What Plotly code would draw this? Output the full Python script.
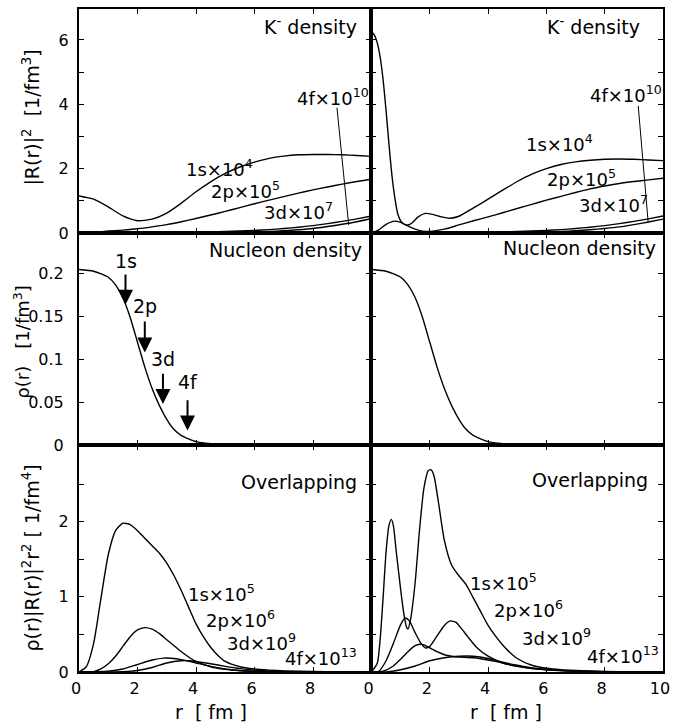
import plotly.graph_objects as go
from plotly.subplots import make_subplots

# ---------------- data ----------------
# Top row: K- density |R(r)|^2 (scaled)
r_top = [0, 0.5, 1, 1.5, 2, 2.5, 3, 3.5, 4, 4.5, 5, 5.5, 6, 6.5, 7, 7.5, 8, 8.5, 9, 9.5, 10]
kL_1s = [1.15, 1.05, 0.81, 0.53, 0.38, 0.43, 0.62, 0.93, 1.28, 1.59, 1.85, 2.05, 2.20, 2.32, 2.39, 2.43, 2.44, 2.44, 2.43, 2.41, 2.38]
kL_2p = [0, 0.02, 0.06, 0.09, 0.13, 0.19, 0.26, 0.35, 0.45, 0.56, 0.67, 0.79, 0.91, 1.02, 1.13, 1.24, 1.34, 1.43, 1.52, 1.60, 1.67]
kL_3d = [0, 0, 0, 0.002, 0.004, 0.007, 0.011, 0.017, 0.025, 0.034, 0.046, 0.06, 0.08, 0.105, 0.14, 0.18, 0.23, 0.29, 0.36, 0.44, 0.53]
kL_4f = [0, 0, 0, 0, 0, 0.001, 0.002, 0.004, 0.006, 0.009, 0.013, 0.02, 0.03, 0.046, 0.07, 0.1, 0.14, 0.2, 0.27, 0.35, 0.45]

r_kR_1s = [0, 0.1, 0.2, 0.3, 0.4, 0.5, 0.6, 0.7, 0.8, 0.9, 1.0, 1.1, 1.25, 1.4, 1.6, 1.85, 2.1, 2.4, 2.7, 3.0, 3.5, 4.0, 4.5, 5.0, 5.5, 6.0, 6.5, 7.0, 7.5, 8.0, 8.5, 9.0, 9.5, 10]
kR_1s = [6.25, 6.15, 5.9, 5.45, 4.75, 3.8, 2.75, 1.8, 1.1, 0.6, 0.38, 0.28, 0.25, 0.32, 0.5, 0.61, 0.58, 0.5, 0.46, 0.52, 0.78, 1.05, 1.33, 1.6, 1.83, 2.0, 2.13, 2.21, 2.26, 2.29, 2.30, 2.29, 2.27, 2.25]
r_kR_2p = [0, 0.25, 0.5, 0.8, 1.0, 1.25, 1.5, 1.75, 2.0, 2.5, 3.0, 3.5, 4.0, 4.5, 5.0, 5.5, 6.0, 6.5, 7.0, 7.5, 8.0, 8.5, 9.0, 9.5, 10]
kR_2p = [0, 0.1, 0.27, 0.37, 0.33, 0.22, 0.12, 0.06, 0.05, 0.12, 0.25, 0.38, 0.5, 0.63, 0.76, 0.89, 1.02, 1.14, 1.26, 1.37, 1.46, 1.54, 1.6, 1.65, 1.7]
kR_3d = [0, 0, 0, 0.002, 0.004, 0.007, 0.011, 0.017, 0.024, 0.033, 0.045, 0.06, 0.08, 0.105, 0.14, 0.18, 0.23, 0.29, 0.36, 0.44, 0.53]
kR_4f = [0, 0, 0, 0, 0, 0.001, 0.002, 0.004, 0.006, 0.009, 0.013, 0.02, 0.03, 0.045, 0.068, 0.1, 0.14, 0.19, 0.26, 0.34, 0.43]

# Middle row: nucleon density rho(r) [1/fm^3]
r_rho = [0, 0.5, 1.0, 1.25, 1.5, 1.75, 2.0, 2.25, 2.5, 2.75, 3.0, 3.25, 3.5, 4.0, 4.5, 5.0, 6.0, 8.0, 10.0]
rho = [0.205, 0.203, 0.196, 0.187, 0.172, 0.149, 0.120, 0.091, 0.066, 0.046, 0.030, 0.018, 0.011, 0.004, 0.0015, 0.0005, 0, 0, 0]

# Arrow markers on the nucleon density (left panel)
arrow_lbl = ["1s", "2p", "3d", "4f"]
arrow_r = [1.59, 2.25, 2.87, 3.71]
arrow_tip = [0.164, 0.108, 0.048, 0.017]
arrow_tail = [0.201, 0.146, 0.085, 0.054]
arrow_txt_y = [0.215, 0.162, 0.101, 0.074]

# Bottom row: overlapping rho(r)|R(r)|^2 r^2 (scaled)
r_oL_1s = [0, 0.25, 0.5, 0.75, 1.0, 1.25, 1.5, 1.75, 2.0, 2.25, 2.5, 2.75, 3.0, 3.25, 3.5, 3.75, 4.0, 4.25, 4.5, 4.75, 5.0, 5.5, 6.0, 6.5, 7.0, 8.0, 9.0, 10.0]
oL_1s = [0, 0.07, 0.38, 0.98, 1.56, 1.88, 1.98, 1.96, 1.88, 1.78, 1.68, 1.58, 1.45, 1.28, 1.08, 0.86, 0.64, 0.47, 0.33, 0.22, 0.14, 0.07, 0.04, 0.025, 0.015, 0.006, 0.002, 0]
r_oL_2p = [0, 0.5, 0.75, 1.0, 1.25, 1.5, 1.75, 2.0, 2.25, 2.5, 2.75, 3.0, 3.25, 3.5, 3.75, 4.0, 4.5, 5.0, 5.5, 6.0, 7.0, 8.0, 10.0]
oL_2p = [0, 0.005, 0.04, 0.11, 0.21, 0.34, 0.47, 0.56, 0.59, 0.57, 0.51, 0.43, 0.35, 0.27, 0.2, 0.14, 0.07, 0.035, 0.017, 0.008, 0.002, 0, 0]
r_oL_3d = [0, 1.0, 1.5, 2.0, 2.5, 2.9, 3.25, 3.5, 4.0, 4.5, 5.0, 5.5, 6.0, 7.0, 8.0, 10.0]
oL_3d = [0, 0.01, 0.04, 0.1, 0.16, 0.185, 0.18, 0.165, 0.12, 0.075, 0.04, 0.02, 0.01, 0.003, 0, 0]
r_oL_4f = [0, 1.5, 2.0, 2.5, 3.0, 3.5, 3.75, 4.0, 4.5, 5.0, 5.5, 6.0, 7.0, 8.0, 10.0]
oL_4f = [0, 0.005, 0.02, 0.06, 0.12, 0.15, 0.15, 0.14, 0.11, 0.075, 0.045, 0.025, 0.008, 0.002, 0]

r_oR_1s = [0, 0.2, 0.3, 0.4, 0.5, 0.6, 0.68, 0.75, 0.85, 1.0, 1.1, 1.2, 1.25, 1.35, 1.5, 1.65, 1.8, 1.95, 2.05, 2.15, 2.3, 2.5, 2.75, 3.0, 3.25, 3.5, 3.75, 4.0, 4.25, 4.5, 4.75, 5.0, 5.5, 6.0, 6.5, 7.0, 8.0, 9.0, 10.0]
oR_1s = [0, 0.12, 0.45, 1.0, 1.6, 1.95, 2.03, 1.95, 1.6, 1.1, 0.8, 0.6, 0.57, 0.72, 1.2, 1.9, 2.45, 2.68, 2.69, 2.6, 2.25, 1.75, 1.42, 1.28, 1.16, 0.98, 0.8, 0.62, 0.48, 0.36, 0.26, 0.18, 0.09, 0.05, 0.03, 0.02, 0.008, 0.003, 0]
r_oR_2p = [0, 0.25, 0.5, 0.75, 1.0, 1.15, 1.3, 1.5, 1.7, 1.85, 2.0, 2.25, 2.5, 2.7, 2.9, 3.1, 3.3, 3.6, 4.0, 4.5, 5.0, 5.5, 6.0, 7.0, 8.0, 9.0, 10.0]
oR_2p = [0, 0.01, 0.15, 0.38, 0.63, 0.72, 0.68, 0.52, 0.38, 0.32, 0.34, 0.48, 0.62, 0.68, 0.66, 0.57, 0.47, 0.33, 0.21, 0.12, 0.075, 0.045, 0.03, 0.012, 0.005, 0.002, 0]
r_oR_3d = [0, 0.4, 0.75, 1.0, 1.25, 1.5, 1.65, 1.8, 2.0, 2.25, 2.5, 2.75, 3.0, 3.5, 4.0, 4.5, 5.0, 5.5, 6.0, 7.0, 8.0, 10.0]
oR_3d = [0, 0.01, 0.08, 0.17, 0.27, 0.35, 0.37, 0.36, 0.32, 0.27, 0.23, 0.21, 0.2, 0.19, 0.16, 0.12, 0.08, 0.05, 0.03, 0.01, 0.004, 0]
r_oR_4f = [0, 0.5, 1.0, 1.5, 2.0, 2.5, 3.0, 3.5, 4.0, 4.5, 5.0, 5.5, 6.0, 7.0, 8.0, 10.0]
oR_4f = [0, 0.0, 0.03, 0.08, 0.15, 0.19, 0.21, 0.21, 0.18, 0.13, 0.09, 0.055, 0.035, 0.012, 0.004, 0]

# curve labels: (text, r, value)
lbl_top_L = [("1s×10<sup>4</sup>", 4.8, 2.02), ("2p×10<sup>5</sup>", 5.69, 1.34),
             ("3d×10<sup>7</sup>", 7.52, 0.68), ("4f×10<sup>10</sup>", 8.7, 4.23)]
lbl_top_R = [("1s×10<sup>4</sup>", 6.46, 2.79), ("2p×10<sup>5</sup>", 7.2, 1.71),
             ("3d×10<sup>7</sup>", 8.3, 0.9), ("4f×10<sup>10</sup>", 8.73, 4.32)]
lbl_bot_L = [("1s×10<sup>5</sup>", 4.88, 1.05), ("2p×10<sup>6</sup>", 5.52, 0.70),
             ("3d×10<sup>9</sup>", 6.25, 0.40), ("4f×10<sup>13</sup>", 8.28, 0.20)]
lbl_bot_R = [("1s×10<sup>5</sup>", 4.52, 1.20), ("2p×10<sup>6</sup>", 5.39, 0.84),
             ("3d×10<sup>9</sup>", 6.36, 0.47), ("4f×10<sup>13</sup>", 8.63, 0.22)]
# 4f pointer lines in the top panels: (r0, v0, r1, v1)
ptr_L = (8.82, 3.89, 9.22, 0.25)
ptr_R = (9.15, 3.95, 9.49, 0.35)

# ---------------- figure ----------------
FONT = "DejaVu Sans"
W, H = 677, 724
PL, PR, PT, PB = 79, 670, 9, 672   # plot area in page pixels
ML, MT = PL, PT
MR = W - PR
MB = H - PB
PW, PH = PR - PL, PB - PT

def px(xp):
    return (xp - PL) / PW

def py(yp):
    return (PB - yp) / PH

fig = make_subplots(rows=3, cols=2, horizontal_spacing=0, vertical_spacing=0)

line = dict(color="black", width=1.4, shape="spline", smoothing=0.6)

def add(r, v, row, col):
    fig.add_trace(go.Scatter(x=r, y=v, mode="lines", line=line, showlegend=False,
                             hoverinfo="skip"), row=row, col=col)

for v in (kL_1s, kL_2p, kL_3d, kL_4f):
    add(r_top, v, 1, 1)
add(r_kR_1s, kR_1s, 1, 2)
add(r_kR_2p, kR_2p, 1, 2)
add(r_top, kR_3d, 1, 2)
add(r_top, kR_4f, 1, 2)
add(r_rho, rho, 2, 1)
add(r_rho, rho, 2, 2)
add(r_oL_1s, oL_1s, 3, 1)
add(r_oL_2p, oL_2p, 3, 1)
add(r_oL_3d, oL_3d, 3, 1)
add(r_oL_4f, oL_4f, 3, 1)
add(r_oR_1s, oR_1s, 3, 2)
add(r_oR_2p, oR_2p, 3, 2)
add(r_oR_3d, oR_3d, 3, 2)
add(r_oR_4f, oR_4f, 3, 2)

xmid = px(375)
xL = [0, xmid]
xR = [xmid, 1]
yB = [0, py(445)]
yM = [py(445), py(233)]
yT = [py(233), 1]

axis_common = dict(showline=True, linecolor="black", linewidth=2, mirror="ticks",
                   ticks="inside", ticklen=5, tickwidth=1, tickcolor="black",
                   showgrid=False, zeroline=False,
                   tickfont=dict(family=FONT, size=16, color="black"))

xtick_vals = [0, 2, 4, 6, 8, 10]
for i, (dom_x, dom_y) in enumerate([(xL, yT), (xR, yT), (xL, yM), (xR, yM), (xL, yB), (xR, yB)]):
    n = i + 1
    xa = dict(axis_common, domain=dom_x, range=[0, 10], tickvals=xtick_vals,
              showticklabels=(n >= 5), ticklabelstandoff=1,
              ticklabelshift=-3, ticklabeloverflow="allow")
    if n == 5:
        xa["ticktext"] = ["0", "2", "4", "6", "8", ""]
    elif n == 6:
        xa["ticktext"] = ["0", "2", "4", "6", "8", "10"]
    fig.update_layout(**{("xaxis" if n == 1 else f"xaxis{n}"): xa})

    if n in (1, 2):
        ya = dict(axis_common, domain=dom_y, range=[0, 6.96], tickvals=[0, 1, 2, 3, 4, 5, 6],
                  ticktext=["0", "", "2", "", "4", "", "6"], ticklabelstandoff=5)
    elif n in (3, 4):
        ya = dict(axis_common, domain=dom_y, range=[0, 0.2477], tickvals=[0, 0.05, 0.1, 0.15, 0.2],
                  ticktext=["0", "0.05", "0.1", "0.15", "0.2"], ticklabelstandoff=10)
    else:
        ya = dict(axis_common, domain=dom_y, range=[0, 3.02], tickvals=[0, 0.5, 1, 1.5, 2, 2.5],
                  ticktext=["0", "", "1", "", "2", ""], ticklabelstandoff=5)
    ya["showticklabels"] = (n % 2 == 1)
    fig.update_layout(**{("yaxis" if n == 1 else f"yaxis{n}"): ya})

ann = []
lbl_font = dict(family=FONT, size=18, color="black")
title_font = dict(family=FONT, size=19, color="black")
NB = "\u00a0"

def curve_labels(lbls, xr, yr):
    for t, xv, yv in lbls:
        ann.append(dict(text=t, x=xv, y=yv, xref=xr, yref=yr, showarrow=False,
                        xanchor="center", yanchor="middle", font=lbl_font))

curve_labels(lbl_top_L, "x", "y")
curve_labels(lbl_top_R, "x2", "y2")
curve_labels(lbl_bot_L, "x5", "y5")
curve_labels(lbl_bot_R, "x6", "y6")

# panel titles
for t, xp, yp in [("K<sup>-</sup> density", 362, 26), ("K<sup>-</sup> density", 649, 26),
                  ("Nucleon density", 367, 250), ("Nucleon density", 665, 248),
                  ("Overlapping", 362, 482), ("Overlapping", 657, 480)]:
    ann.append(dict(text=t, x=px(xp), y=py(yp), xref="paper", yref="paper", showarrow=False,
                    xanchor="right", yanchor="middle", font=title_font))

# axis titles
for t, xp, yp, fs in [("|R(r)|<sup>2</sup>" + NB * 2 + "[1/fm<sup>3</sup>]", 31, 118, 19),
                      ("ρ(r)" + NB * 3 + "[1/fm<sup>3</sup>]", 21, 342, 18),
                      ("ρ(r)|R(r)|<sup>2</sup>r<sup>2</sup> [ 1/fm<sup>4</sup>]", 30, 558, 19)]:
    ann.append(dict(text=t, x=px(xp), y=py(yp), xref="paper", yref="paper", showarrow=False,
                    textangle=-90, xanchor="center", yanchor="middle",
                    font=dict(family=FONT, size=fs, color="black")))
for xp in (213, 511):
    ann.append(dict(text="r" + NB * 2 + "[ fm ]", x=px(xp), y=py(712), xref="paper", yref="paper",
                    showarrow=False, xanchor="center", yanchor="middle", font=title_font))

# arrows in the nucleon-density panel
for lab, rv, tip, tail, ty in zip(arrow_lbl, arrow_r, arrow_tip, arrow_tail, arrow_txt_y):
    ann.append(dict(text="", x=rv, y=tip, ax=rv, ay=tail, xref="x3", yref="y3",
                    axref="x3", ayref="y3", showarrow=True, arrowhead=2, arrowsize=1.5,
                    arrowwidth=2, arrowcolor="black"))
    ann.append(dict(text=lab, x=rv, y=ty, xref="x3", yref="y3", showarrow=False,
                    xanchor="center", yanchor="middle", font=title_font))

fig.update_layout(annotations=ann)

# 4f pointer lines
for (r0, v0, r1, v1), xr, yr in [(ptr_L, "x", "y"), (ptr_R, "x2", "y2")]:
    fig.add_shape(type="line", x0=r0, y0=v0, x1=r1, y1=v1, xref=xr, yref=yr,
                  line=dict(color="black", width=1))

fig.update_layout(width=W, height=H, margin=dict(l=ML, r=MR, t=MT, b=MB),
                  paper_bgcolor="white", plot_bgcolor="white",
                  font=dict(family=FONT, color="black"))

# remove the default page margin so the figure fills the window exactly
fig.write_html("out.html", config={"displayModeBar": False},
               post_script="document.body.style.margin='0';document.body.style.overflow='hidden';")
